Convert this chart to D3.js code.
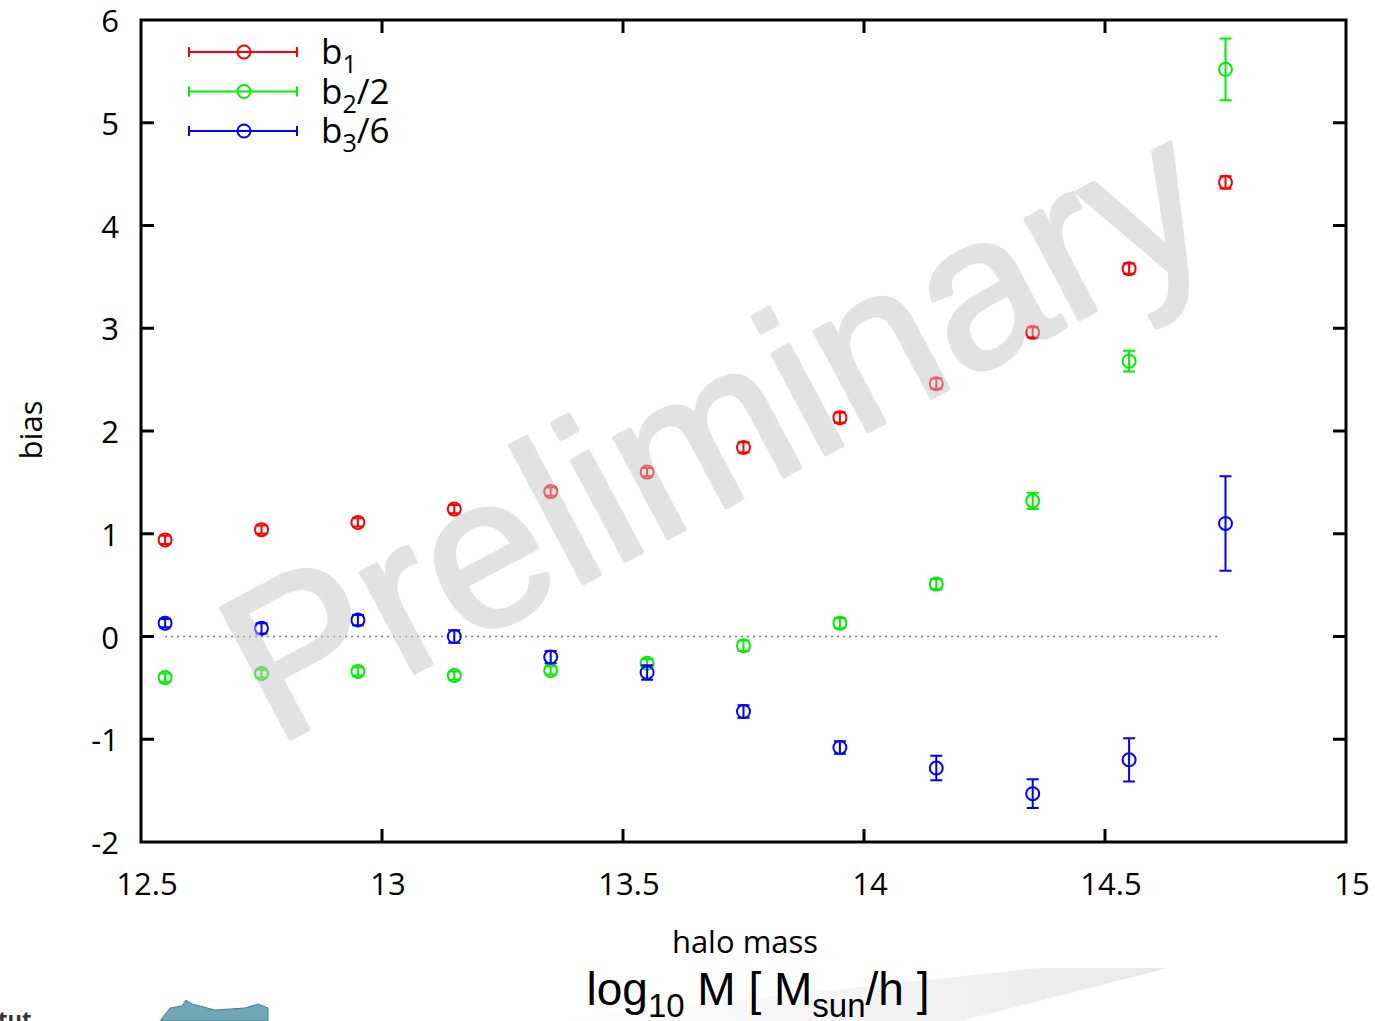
<!DOCTYPE html>
<html>
<head>
<meta charset="utf-8">
<script src="https://cdn.jsdelivr.net/npm/d3@7"></script>
<style>
  body { margin: 0; background: #fff; }
  svg { display: block; }
  text { font-family: "Open Sans", "DejaVu Sans", sans-serif; }
</style>
</head>
<body>
<svg id="chart"></svg>
<script>
// halo mass bins (log10 M)
var massBins = [12.55, 12.75, 12.95, 13.15, 13.35, 13.55, 13.75, 13.95, 14.15, 14.35, 14.55, 14.75];

// b1
var b1 = [0.94, 1.04, 1.11, 1.24, 1.41, 1.60, 1.84, 2.13, 2.46, 2.96, 3.58, 4.42];
var b1err = [0.04, 0.04, 0.04, 0.04, 0.04, 0.04, 0.05, 0.05, 0.05, 0.05, 0.05, 0.06];
// b2/2
var b2 = [-0.40, -0.36, -0.34, -0.38, -0.33, -0.26, -0.09, 0.13, 0.51, 1.32, 2.68, 5.52];
var b2err = [0.04, 0.04, 0.04, 0.04, 0.04, 0.04, 0.05, 0.05, 0.05, 0.08, 0.10, 0.30];
// b3/6
var b3 = [0.13, 0.08, 0.16, 0.00, -0.20, -0.35, -0.73, -1.08, -1.28, -1.53, -1.20, 1.10];
var b3err = [0.04, 0.05, 0.05, 0.06, 0.06, 0.07, 0.06, 0.06, 0.12, 0.14, 0.21, 0.46];

var xTicks = [12.5, 13, 13.5, 14, 14.5, 15];
var yTicks = [-2, -1, 0, 1, 2, 3, 4, 5, 6];

var seriesNames = ["b1", "b2/2", "b3/6"];
var seriesColors = ["#ff0000", "#00ee00", "#0000ff"];

//Canvas setting
var W = 1375, H = 1021;
var svg = d3.select("#chart").attr("width", W).attr("height", H);
var margin = {top: 20, right: 29, bottom: 179, left: 141};
var pw = W - margin.left - margin.right,
    ph = H - margin.top - margin.bottom;

var x = d3.scaleLinear().domain([12.5, 15]).range([0, pw]);
var y = d3.scaleLinear().domain([-2, 6]).range([ph, 0]);

var series = [b1, b2, b3].map(function(vals, i){
  var errs = [b1err, b2err, b3err][i];
  return {name: seriesNames[i], color: seriesColors[i],
          pts: vals.map(function(v, j){ return {m: massBins[j], v: v, e: errs[j]}; })};
});

// bottom slide decorations
var grad = svg.append("defs").append("linearGradient").attr("id", "fade")
   .attr("x1", "0%").attr("x2", "100%");
grad.append("stop").attr("offset", "0%").style("stop-color", "#ffffff");
grad.append("stop").attr("offset", "100%").style("stop-color", "#e9e9e9");
svg.append("polygon")
   .attr("points", "540,1021 1040,968 1168,968 960,1021")
   .style("fill", "url(#fade)");
svg.append("path")
   .attr("d", "M160,1021 L170,1008 L182,1006 L186,1000 L192,1004 L215,1010 L245,1008 L258,1004 L268,1008 L268,1021 Z")
   .style("fill", "#6fa8b4").style("stroke", "#4a7f8a").style("stroke-width", 1);
svg.append("text").attr("x", -2).attr("y", 1027)
   .style("font-size", "22px").style("font-weight", "bold").style("fill", "#333").text("tut");

var g = svg.append("g").attr("transform", "translate(" + margin.left + "," + margin.top + ")");

// zero line
g.append("line")
 .attr("x1", x(12.55)).attr("x2", x(14.74))
 .attr("y1", y(0)).attr("y2", y(0))
 .style("stroke", "#777").style("stroke-width", 1.5).style("stroke-dasharray", "2,4");

// ticks (inside, mirrored)
var tl = 13;
g.selectAll(".xtick").data(xTicks.slice(1, -1)).enter().append("g").each(function(d){
  var s = d3.select(this);
  s.append("line").attr("x1", x(d)).attr("x2", x(d)).attr("y1", ph).attr("y2", ph - tl);
  s.append("line").attr("x1", x(d)).attr("x2", x(d)).attr("y1", 0).attr("y2", tl);
}).selectAll("line").style("stroke", "#000").style("stroke-width", 3);
g.selectAll(".ytick").data(yTicks.slice(1, -1)).enter().append("g").each(function(d){
  var s = d3.select(this);
  s.append("line").attr("x1", 0).attr("x2", tl).attr("y1", y(d)).attr("y2", y(d));
  s.append("line").attr("x1", pw).attr("x2", pw - tl).attr("y1", y(d)).attr("y2", y(d));
}).selectAll("line").style("stroke", "#000").style("stroke-width", 3);

// tick labels
g.selectAll(".xlab").data(xTicks).enter().append("text")
 .attr("x", function(d){ return x(d) + 6; }).attr("y", ph + 53)
 .attr("text-anchor", "middle").style("font-size", "31px")
 .text(function(d){ return d3.format("")(d); });
g.selectAll(".ylab").data(yTicks).enter().append("text")
 .attr("x", -22).attr("y", function(d){ return y(d) + 12; })
 .attr("text-anchor", "end").style("font-size", "31px")
 .text(function(d){ return d; });

// points with error bars
var cap = 6, rad = 6.5;
series.forEach(function(s){
  var sg = g.append("g").style("stroke", s.color).style("fill", "none").style("stroke-width", 2);
  sg.selectAll(".eb").data(s.pts).enter().append("path")
    .attr("d", function(d){
      var cx = x(d.m), lo = y(d.v - d.e), hi = y(d.v + d.e);
      return "M" + cx + "," + lo + "V" + hi +
             "M" + (cx - cap) + "," + hi + "H" + (cx + cap) +
             "M" + (cx - cap) + "," + lo + "H" + (cx + cap);
    });
  sg.selectAll(".pt").data(s.pts).enter().append("circle")
    .attr("cx", function(d){ return x(d.m); })
    .attr("cy", function(d){ return y(d.v); })
    .attr("r", rad);
});

// legend
var leg = g.append("g");
series.forEach(function(s, i){
  var ly = 32 + i * 39.5, lx0 = 48, lx1 = 156;
  var lg = leg.append("g").style("stroke", s.color).style("stroke-width", 2).style("fill", "none");
  lg.append("path").attr("d", "M" + lx0 + "," + ly + "H" + lx1 +
     "M" + lx0 + "," + (ly - 5) + "V" + (ly + 5) + "M" + lx1 + "," + (ly - 5) + "V" + (ly + 5));
  lg.append("circle").attr("cx", (lx0 + lx1) / 2 + 1).attr("cy", ly).attr("r", rad);
  var t = leg.append("text").attr("x", 180).attr("y", ly + 12).style("font-size", "35px");
  var parts = s.name.split("/");
  t.append("tspan").text("b");
  t.append("tspan").attr("dy", 9).style("font-size", "25px").text(parts[0].slice(1));
  if (parts[1]) t.append("tspan").attr("dy", -9).text("/" + parts[1]);
});

// watermark
g.append("text")
 .attr("transform", "translate(" + 134 + "," + 727 + ") rotate(-28)")
 .style("font-family", "'Liberation Sans', Arial, sans-serif")
 .style("font-size", "215px").style("fill", "rgb(198,198,198)")
 .style("stroke", "rgb(198,198,198)").style("stroke-width", 4).style("stroke-linejoin", "round")
 .style("opacity", 0.5)
 .text("Preliminary");

// frame
g.append("rect").attr("width", pw).attr("height", ph)
 .style("fill", "none").style("stroke", "#000").style("stroke-width", 3);

// axis titles
svg.append("text").attr("transform", "translate(42,430) rotate(-90)")
   .attr("text-anchor", "middle").style("font-size", "31px").text("bias");
svg.append("text").attr("x", 745).attr("y", 953)
   .attr("text-anchor", "middle").style("font-size", "31px").text("halo mass");
var xt = svg.append("text").attr("x", 758).attr("y", 1005).attr("text-anchor", "middle")
   .style("font-family", "'Liberation Sans', Arial, sans-serif").style("font-size", "46px");
xt.append("tspan").text("log");
xt.append("tspan").attr("dy", 12).style("font-size", "33px").text("10");
xt.append("tspan").attr("dy", -12).text(" M [ M");
xt.append("tspan").attr("dy", 12).style("font-size", "33px").text("sun");
xt.append("tspan").attr("dy", -12).text("/h ]");
</script>
</body>
</html>
